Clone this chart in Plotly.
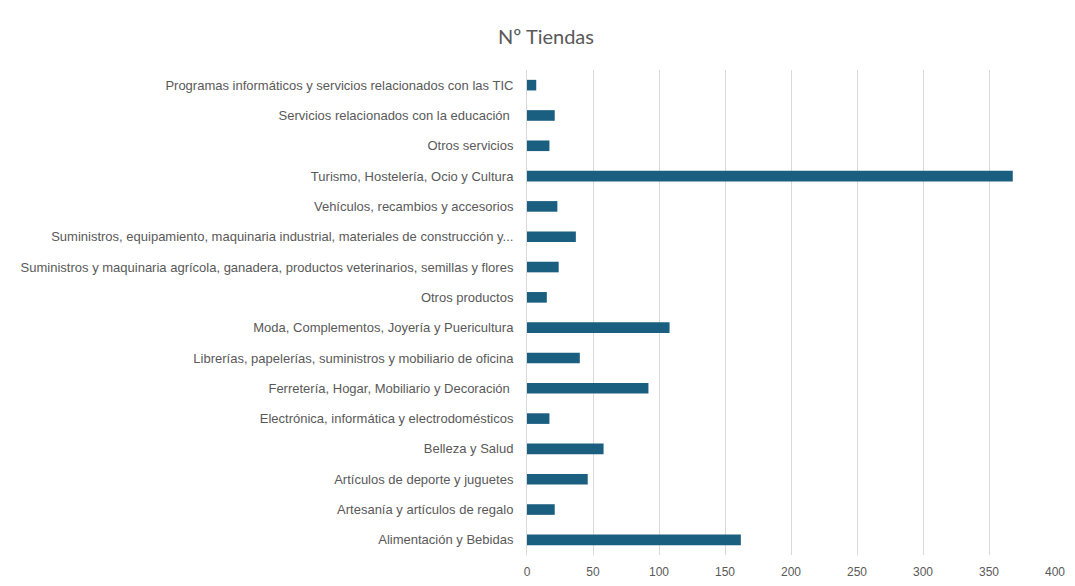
import plotly.graph_objects as go

categories = [
    "Alimentación y Bebidas",
    "Artesanía y artículos de regalo",
    "Artículos de deporte y juguetes",
    "Belleza y Salud",
    "Electrónica, informática y electrodomésticos",
    "Ferretería, Hogar, Mobiliario y Decoración ",
    "Librerías, papelerías, suministros y mobiliario de oficina",
    "Moda, Complementos, Joyería y Puericultura",
    "Otros productos",
    "Suministros y maquinaria agrícola, ganadera, productos veterinarios, semillas y flores",
    "Suministros, equipamiento, maquinaria industrial, materiales de construcción y...",
    "Vehículos, recambios y accesorios",
    "Turismo, Hostelería, Ocio y Cultura",
    "Otros servicios",
    "Servicios relacionados con la educación ",
    "Programas informáticos y servicios relacionados con las TIC",
]
values = [162, 21, 46, 58, 17, 92, 40, 108, 15, 24, 37, 23, 368, 17, 21, 7]

title_text = "Nº Tiendas"
x_ticks = [0, 50, 100, 150, 200, 250, 300, 350, 400]

GRAY = "#595959"
FONT = "Liberation Sans, Arial, sans-serif"

W, H = 1067, 578  # page body has an 8px margin

fig = go.Figure(
    go.Bar(
        x=values,
        y=categories,
        orientation="h",
        marker=dict(color="#1a5e80", line=dict(width=0)),
    )
)

fig.update_layout(
    width=W,
    height=H,
    margin=dict(l=519, r=20, t=62, b=31, autoexpand=False),
    paper_bgcolor="white",
    plot_bgcolor="white",
    bargap=0.65,
    showlegend=False,
    font=dict(family=FONT, color=GRAY, size=13),
    title=dict(
        text=title_text,
        x=538 / W,
        xanchor="center",
        y=1 - 29 / H,
        yanchor="middle",
        font=dict(family="Lato, Open Sans, sans-serif", size=20, color=GRAY),
    ),
)

fig.update_xaxes(
    range=[0, 400],
    tickvals=x_ticks,
    showgrid=True,
    gridcolor="#d9d9d9",
    gridwidth=1,
    zeroline=False,
    showline=False,
    ticks="outside",
    ticklen=6,
    tickcolor="rgba(0,0,0,0)",
    tickfont=dict(family="Liberation Sans, Arial, sans-serif", size=12, color=GRAY),
    automargin=False,
    fixedrange=True,
)

fig.update_yaxes(
    type="category",
    categoryorder="array",
    categoryarray=categories,
    showgrid=False,
    zeroline=False,
    showline=True,
    linecolor="#d9d9d9",
    linewidth=1,
    ticks="",
    ticklabelstandoff=10,
    tickfont=dict(family=FONT, size=13, color=GRAY),
    automargin=False,
    fixedrange=True,
)

fig.write_html("out.html")
